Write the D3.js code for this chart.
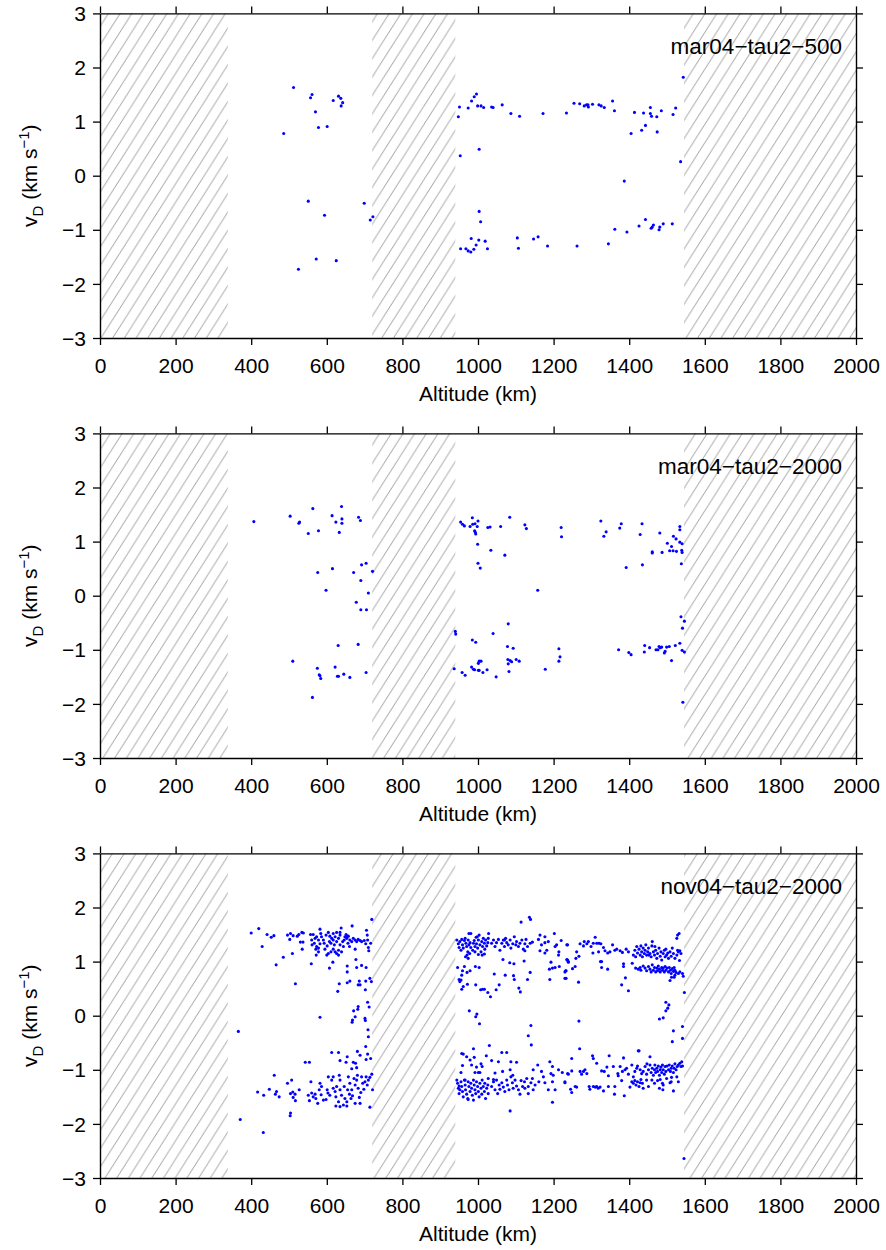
<!DOCTYPE html>
<html>
<head>
<meta charset="utf-8">
<script src="https://cdn.jsdelivr.net/npm/d3@7"></script>
<style>
  html, body { margin: 0; padding: 0; background: #fff; }
  svg { display: block; }
  text { font-family: "Liberation Sans", Arial, Helvetica, sans-serif; fill: #000; }
</style>
</head>
<body>
<script>
// Axis ticks and the masked (hatched) altitude ranges
const altitudeTicks = [0, 200, 400, 600, 800, 1000, 1200, 1400, 1600, 1800, 2000];
const velocityTicks = [-3, -2, -1, 0, 1, 2, 3];
const maskedRanges = [[0, 338], [720, 940], [1545, 2000]];
const runLabels = ["mar04\u2212tau2\u2212500", "mar04\u2212tau2\u22122000", "nov04\u2212tau2\u22122000"];

// Run mar04-tau2-500: altitude (km) and Doppler velocity (km/s)
const mar04_500_alt = [512,486,561,557,570,578,601,617,631,637,642,638,551,594,699,722,715,572,625,525,
  948,951,974,983,990,996,999,1008,1015,1036,1040,1064,1087,1110,1172,1234,1254,1269,1281,1287,1292,1291,
  1303,1320,1326,1334,1356,1361,1405,1414,1433,1438,1443,1456,1456,1459,1473,1474,1485,1516,1523,1543,1536,
  953,1003,1387,1003,1007,954,968,974,981,989,982,995,1002,1019,1025,1104,1107,1147,1159,1184,1262,1345,
  1362,1394,1426,1443,1458,1464,1461,1479,1481,1490,1514];
const mar04_500_vd = [1.63,0.78,1.50,1.44,1.18,0.89,0.91,1.39,1.47,1.43,1.35,1.29,-0.47,-0.73,-0.51,-0.76,-0.82,-1.54,-1.57,-1.73,
  1.09,1.27,1.25,1.38,1.46,1.51,1.29,1.29,1.26,1.27,1.26,1.31,1.15,1.10,1.15,1.16,1.34,1.33,1.29,1.31,1.27,1.31,
  1.32,1.31,1.29,1.26,1.38,1.20,0.78,1.17,0.84,1.16,0.93,1.26,1.15,1.10,1.09,0.81,1.20,1.13,1.25,1.82,0.26,
  0.37,0.49,-0.10,-0.66,-0.85,-1.35,-1.35,-1.39,-1.41,-1.36,-1.16,-1.28,-1.19,-1.21,-1.35,-1.15,-1.34,-1.17,-1.13,-1.30,-1.30,-1.26,
  -0.99,-1.04,-0.93,-0.81,-0.97,-0.91,-0.95,-1.00,-0.95,-0.89,-0.89];

// Run mar04-tau2-2000
const mar04_2000_alt = [407,503,526,528,563,551,578,614,624,639,640,640,633,684,689,
  576,598,615,671,692,704,721,690,710,678,690,705,
  630,683,510,575,580,582,584,622,628,631,645,661,704,562,
  954,959,964,979,985,986,992,1000,998,991,993,994,999,1000,1006,1026,1032,1034,1060,1071,1084,1124,1128,
  1220,1221,1158,1325,1339,1333,1379,1375,1392,1429,1434,1435,1461,1461,1481,1487,1501,1507,1512,1517,1516,
  1524,1525,1534,1534,1534,1540,1539,1540,1538,
  940,941,937,958,966,985,994,983,988,991,1001,1003,1008,1001,1003,1013,1024,1048,1040,1080,1078,1093,
  1079,1080,1085,1089,1101,1109,1082,1178,1214,1217,1214,1372,1399,1405,1441,1440,1454,1471,1476,1479,
  1482,1486,1493,1495,1499,1506,1512,1522,1534,1540,1546,1537,1546,1541,1542];
const mar04_2000_vd = [1.37,1.47,1.34,1.36,1.61,1.15,1.20,1.48,1.36,1.65,1.42,1.34,1.17,1.45,1.39,
  0.43,0.10,0.50,0.43,0.57,0.60,0.45,0.28,0.05,-0.12,-0.26,-0.26,
  -0.92,-0.90,-1.21,-1.34,-1.46,-1.48,-1.53,-1.32,-1.49,-1.49,-1.45,-1.51,-1.42,-1.88,
  1.36,1.32,1.29,1.28,1.44,1.32,1.33,1.38,1.28,1.20,1.17,1.14,0.95,0.60,0.51,1.26,1.27,0.84,1.28,0.75,1.45,1.31,1.24,
  1.26,1.09,0.10,1.38,1.18,1.10,1.33,1.25,0.52,1.13,1.33,0.57,0.81,0.79,1.16,0.80,0.97,0.83,0.91,1.10,0.83,
  1.05,0.82,1.28,1.22,0.99,0.96,0.84,0.80,0.59,
  -0.66,-0.71,-1.35,-1.42,-1.47,-0.82,-0.86,-1.32,-1.36,-1.37,-1.25,-1.21,-1.21,-1.38,-1.38,-1.42,-1.37,-1.50,-0.70,-0.52,-0.94,-0.97,
  -1.18,-1.26,-1.20,-1.22,-1.18,-1.21,-1.40,-1.36,-0.98,-1.13,-1.21,-1.00,-1.05,-1.09,-0.92,-1.04,-0.96,-1.00,-1.00,-0.94,
  -0.96,-0.95,-1.06,-1.03,-0.95,-0.94,-1.20,-0.92,-0.88,-1.01,-1.04,-0.39,-0.47,-0.60,-1.97];

// Run nov04-tau2-2000
const nov04_2000_alt = [
  // 400-720 km, upward branch
  400,420,442,453,460,429,466,485,509,496,504,502,511,522,526,534,538,530,537,535,559,517,
  557,564,569,560,573,578,567,561,573,571,578,582,584,586,591,593,582,578,572,598,604,608,613,617,622,607,
  611,601,595,600,604,611,617,622,626,631,620,626,631,635,638,635,642,646,648,651,654,656,660,661,666,667,
  670,675,679,683,688,692,675,657,653,644,639,631,705,707,708,699,703,710,711,719,716,617,626,635,
  // 400-720 km, crossing zero
  616,607,654,654,677,679,692,704,633,629,654,661,686,683,688,703,702,714,718,708,712,683,682,671,675,668,
  667,701,702,709,710,582,366,703,708,716,681,688,654,613,631,635,651,670,676,704,679,666,543,554,
  // 400-720 km, downward branch
  461,507,496,448,417,433,467,464,474,504,510,516,511,517,527,504,503,371,432,558,551,554,560,564,569,571,
  576,580,582,586,585,591,598,601,603,604,613,617,622,624,626,631,633,635,639,644,646,648,653,655,660,661,
  664,666,668,672,675,679,681,683,686,688,692,695,698,701,704,707,710,714,719,721,714,617,635,608,657,690,
  624,635,653,675,
  // 940-1240 km, upward branch
  1114,1136,1139,976,981,998,1003,1028,
  944,948,952,957,959,961,964,966,968,970,973,974,976,979,981,986,988,990,992,995,996,999,1001,1005,1008,
  1010,1012,1014,1017,1018,1020,1023,1026,1027,971,974,967,978,1011,1017,1036,1041,1045,1049,1054,1058,
  1063,1067,1070,1073,1076,1080,1085,1087,1092,1096,1100,1102,1107,1111,1116,1120,1124,1127,1131,1138,
  1144,1160,1164,1168,1177,1177,1182,1186,1202,1204,1208,1213,1214,1220,1235,1237,1177,1164,1124,1070,
  1001,992,955,950,
  // 940-1240 km, between the branches
  946,959,964,971,979,957,955,950,952,961,957,972,993,1003,994,1007,1012,1017,1026,1033,1048,1056,1043,
  1066,1084,1095,1072,1094,1096,1122,1138,1131,1108,1112,1193,1189,1197,1204,1190,1215,1230,1233,1236,
  1239,1230,977,997,994,1004,1140,1133,1141,1030,
  // 940-1240 km, downward branch
  957,961,959,955,970,990,988,979,983,996,1008,1005,1001,992,1011,1022,1036,1054,1063,1076,1087,1102,
  1085,1065,1045,1041,1027,1085,1197,
  944,946,948,950,952,955,957,959,961,964,966,967,970,973,974,976,979,981,983,985,988,990,992,994,996,
  999,1001,1003,1005,1008,1010,1011,1014,1017,1018,1020,1023,1026,1027,966,974,950,988,
  1036,1041,1045,1049,1052,1056,1058,1063,1067,1071,1076,1078,1082,1087,1091,1093,1098,1102,1107,1111,
  1114,1118,1123,1124,1129,1133,1140,1144,1146,1151,1158,1161,1168,1173,1177,1186,1193,1197,1199,1204,
  1213,1223,1230,1239,1190,1197,1146,1133,1092,
  // 1230-1545 km, upward branch
  1237,1235,1239,1232,1233,1250,1257,1261,1259,1267,1270,1281,1279,1288,1292,1299,1305,1310,1314,1320,
  1325,1304,1319,1332,1336,1343,1349,1356,1362,1367,1376,1382,1392,1398,1324,1327,1327,1343,1385,1385,
  1408,1390,1380,1398,1266,
  1411,1415,1417,1420,1422,1426,1429,1431,1433,1435,1437,1440,1442,1444,1446,1449,1451,1455,1458,1460,
  1461,1464,1467,1470,1473,1475,1479,1482,1484,1486,1490,1493,1495,1499,1502,1504,1508,1511,1514,1517,
  1521,1526,1528,1530,1534,1537,1532,1528,1526,1497,1452,1468,
  1417,1424,1429,1431,1437,1442,1446,1451,1455,1458,1461,1464,1467,1470,1473,1475,1477,1480,1482,1486,
  1488,1490,1493,1495,1497,1500,1504,1506,1509,1511,1514,1517,1519,1521,1524,1508,1521,1530,1534,1541,
  1543,1519,1512,1533,
  // 1230-1545 km, between the branches
  1267,1546,1497,1505,1502,1497,1490,1480,1541,1517,1541,1514,1269,1424,1248,
  // 1230-1545 km, downward branch
  1237,1248,1245,1248,1230,1257,1261,1270,1274,1279,1283,1288,1294,1296,1305,1310,1314,1318,1323,1303,
  1305,1314,1327,1334,1341,1347,1345,1358,1332,1345,1362,1361,1370,1371,1376,1385,1382,1387,1380,1389,
  1393,1398,1402,1407,1411,1415,1420,1422,1426,1407,1411,1415,1418,1422,1426,1429,1431,1435,1437,1429,
  1433,1437,1442,1446,1451,1455,1458,1461,1464,1467,1468,1470,1473,1475,1477,1480,1482,1484,1486,1488,
  1490,1493,1495,1497,1500,1504,1506,1509,1511,1514,1517,1519,1521,1524,1527,1530,1534,1539,1537,1541,
  1460,1467,1475,1482,1488,1490,1499,1508,1511,1512,1517,1530,1526,1446,1451,1480,1489,1447,1455,1545];
const nov04_2000_vd = [
  1.53,1.61,1.50,1.45,1.48,1.28,0.94,1.08,1.15,1.49,1.52,1.41,1.48,1.47,1.50,1.54,1.53,1.36,1.36,1.23,0.96,0.59,
  1.50,1.50,1.43,1.40,1.46,1.40,1.34,1.31,1.28,1.23,1.18,1.60,1.52,1.46,1.40,1.34,1.33,1.25,1.12,1.49,1.54,1.47,1.43,1.40,1.46,1.37,
  1.34,1.29,1.23,1.12,1.15,1.18,1.23,1.18,1.15,1.21,1.31,1.37,1.43,1.49,1.62,1.31,1.37,1.40,1.46,1.50,1.47,1.34,1.28,1.40,1.37,1.66,
  1.43,1.40,1.37,1.41,1.39,1.37,1.23,1.47,1.43,1.28,1.18,1.12,1.58,1.49,1.40,1.39,1.33,1.26,1.20,1.78,1.34,1.52,1.54,1.54,
  0.99,0.88,0.92,0.81,1.04,0.89,0.93,0.89,0.59,0.45,0.61,0.64,0.64,0.57,0.57,0.64,0.48,0.69,0.63,0.25,0.16,0.17,0.12,0.09,-0.02,-0.08,
  -0.12,-0.05,-0.09,-0.26,-0.39,-0.03,-0.29,-0.57,-0.71,-0.79,-0.66,-0.73,-0.76,-0.68,-0.68,-0.83,-0.86,-0.86,-0.88,-0.81,-0.96,-0.98,-0.86,-0.86,
  -1.10,-1.19,-1.25,-1.36,-1.41,-1.47,-1.40,-1.45,-1.50,-1.44,-1.41,-1.45,-1.51,-1.57,-1.37,-1.80,-1.85,-1.92,-2.16,-1.22,-1.47,-1.57,-1.43,-1.50,-1.45,-1.53,
  -1.62,-1.37,-1.25,-1.31,-1.46,-1.56,-1.55,-1.37,-1.43,-1.13,-1.19,-1.34,-1.40,-1.50,-1.31,-1.59,-1.10,-1.37,-1.47,-1.65,-1.31,-1.53,-1.59,-1.37,-1.45,-1.25,
  -1.53,-1.37,-1.48,-1.16,-1.28,-1.19,-1.10,-1.34,-1.51,-1.62,-1.13,-1.25,-1.36,-1.22,-1.13,-1.28,-1.19,-1.14,-1.08,-1.37,-1.69,-1.13,-1.19,-1.47,-1.13,-1.42,
  -1.67,-1.68,-1.67,-1.62,
  1.73,1.82,1.78,1.52,1.52,1.46,1.49,1.52,
  1.40,1.33,1.37,1.41,1.31,1.25,1.39,1.43,1.34,1.28,1.18,1.40,1.31,1.35,1.26,1.21,1.34,1.39,1.28,1.45,1.33,1.25,1.40,1.31,1.18,
  1.37,1.28,1.43,1.34,1.23,1.40,1.29,1.35,1.43,1.12,1.06,1.09,1.15,1.12,1.14,1.34,1.40,1.28,1.35,1.41,1.21,
  1.34,1.40,1.28,1.43,1.35,1.31,1.40,1.25,1.33,1.46,1.31,1.37,1.28,1.34,1.40,1.23,1.33,1.41,1.28,1.34,
  1.36,1.41,1.49,1.31,1.46,1.35,1.21,1.37,1.52,1.28,1.31,1.12,1.18,1.39,1.31,1.03,1.16,1.20,1.20,1.40,
  1.13,1.18,1.21,1.26,
  0.89,0.83,0.91,0.80,0.83,0.75,0.66,0.67,0.63,0.54,0.49,0.58,0.91,0.89,0.57,0.48,0.49,0.49,0.43,0.35,0.48,0.57,0.77,
  1.04,0.98,0.96,0.75,0.74,0.67,1.01,0.80,0.67,0.51,0.44,0.99,0.86,0.88,0.89,0.67,0.91,0.81,0.83,1.03,
  0.99,0.69,0.09,0.03,-0.02,-0.15,-0.18,-0.37,-0.54,-0.55,
  -0.70,-0.71,-0.92,-1.05,-0.76,-0.77,-0.61,-0.82,-0.91,-0.95,-0.89,-1.05,-1.05,-1.05,-0.94,-0.74,-0.83,-0.85,-0.68,-0.68,-0.85,-0.86,
  -1.00,-1.03,-1.06,-1.18,-1.16,-1.76,-1.60,
  -1.19,-1.25,-1.34,-1.44,-1.37,-1.22,-1.31,-1.40,-1.50,-1.19,-1.28,-1.37,-1.45,-1.53,-1.22,-1.31,-1.40,-1.25,-1.34,-1.47,-1.19,-1.28,-1.37,-1.44,-1.22,
  -1.31,-1.40,-1.50,-1.25,-1.34,-1.45,-1.19,-1.31,-1.40,-1.25,-1.53,-1.34,-1.28,-1.44,-1.19,-1.55,-1.30,-1.56,
  -1.31,-1.22,-1.37,-1.19,-1.44,-1.28,-1.36,-1.24,-1.32,-1.40,-1.19,-1.28,-1.37,-1.13,-1.24,-1.34,-1.19,-1.30,-1.37,-1.45,
  -1.20,-1.31,-1.22,-1.34,-1.16,-1.31,-1.24,-1.16,-1.00,-1.28,-0.91,-1.22,-1.03,-1.13,-1.24,-1.37,-1.07,-1.22,-1.10,-1.37,
  -1.00,-1.05,-1.22,-1.08,-0.85,-0.94,-1.37,-1.44,-1.10,
  1.31,1.04,1.00,0.83,0.69,0.87,0.91,1.18,1.06,1.10,1.33,1.37,1.29,1.33,1.37,1.28,1.34,1.45,1.34,1.34,
  1.33,1.16,1.18,1.26,1.20,1.16,1.18,1.31,1.21,1.23,1.20,1.17,1.23,1.18,1.00,1.00,0.89,0.86,0.96,0.91,
  0.97,0.70,0.57,0.46,0.62,
  1.12,1.21,1.09,1.28,1.16,1.23,1.12,1.29,1.18,1.09,1.25,1.15,1.21,1.31,1.12,1.18,1.25,1.15,1.09,1.29,
  1.37,1.18,1.12,1.21,1.06,1.15,1.25,1.10,1.18,1.03,1.15,1.21,1.09,1.12,1.16,1.06,1.18,1.10,1.25,1.15,
  1.06,1.12,1.21,1.18,1.20,1.15,1.52,1.49,1.43,1.23,1.12,1.28,
  0.88,0.86,0.89,0.84,0.92,0.88,0.83,0.91,0.86,0.81,0.94,0.84,0.89,0.81,0.88,0.83,0.92,0.86,0.81,0.89,
  0.84,0.88,0.81,0.91,0.84,0.88,0.81,0.89,0.84,0.78,0.87,0.82,0.89,0.84,0.80,0.65,0.75,0.78,0.81,0.78,
  0.73,0.71,0.71,1.02,
  -0.10,0.43,0.25,0.20,0.14,0.09,-0.04,-0.06,-0.20,-0.28,-0.42,-0.48,-0.61,-0.65,-0.79,
  -1.07,-1.02,-1.36,-1.42,-1.24,-1.31,-1.32,-1.03,-1.08,-1.03,-1.00,-1.07,-1.31,-1.36,-1.31,-1.32,-1.31,-1.34,-1.32,-0.74,
  -0.79,-0.88,-1.02,-1.03,-0.95,-0.74,-1.11,-0.94,-1.39,-1.31,-1.31,-1.45,-1.07,-1.11,-0.94,-0.78,-1.03,-1.48,-1.20,-1.00,
  -0.97,-1.08,-1.32,-0.91,-1.13,-1.03,-0.97,-0.93,-0.65,-1.22,-1.25,-1.20,-1.28,-1.22,-1.31,-1.24,-1.18,-1.25,-1.34,-1.00,
  -1.07,-1.03,-0.94,-1.08,-1.00,-0.91,-1.05,-0.97,-1.10,-1.00,-0.91,-1.05,-0.97,-1.03,-0.93,-1.10,-1.00,-0.95,-1.05,-0.91,
  -1.00,-1.08,-0.94,-1.03,-0.93,-1.00,-0.91,-1.03,-0.97,-0.93,-1.05,-0.97,-0.89,-1.00,-0.94,-0.91,-0.88,-0.85,-0.94,-0.93,
  -1.19,-1.25,-1.20,-1.18,-1.25,-1.28,-1.16,-1.24,-1.22,-1.14,-1.39,-1.22,-1.13,-1.19,-1.31,-1.34,-1.37,-0.89,-0.76,-2.64];

const runs = [
  { alt: mar04_500_alt, vd: mar04_500_vd, label: runLabels[0] },
  { alt: mar04_2000_alt, vd: mar04_2000_vd, label: runLabels[1] },
  { alt: nov04_2000_alt, vd: nov04_2000_vd, label: runLabels[2] }
];

const width = 886, height = 1250;
const plotLeft = 100, plotRight = 856, plotHeight = 324.6;
const firstTop = 13.4, panelStep = 420;
const fontSize = 21;

const svg = d3.select("body").append("svg")
  .attr("width", width).attr("height", height)
  .attr("viewBox", `0 0 ${width} ${height}`);

// Diagonal hatching for the masked altitude ranges
const hw = 11.7, hh = 18.4;
const defs = svg.append("defs");
defs.append("pattern")
  .attr("id", "hatch")
  .attr("patternUnits", "userSpaceOnUse")
  .attr("width", hw).attr("height", hh)
  .append("path")
  .attr("d", `M${-hw},${hh} L${hw},${-hh} M0,${hh} L${hw},0 M0,${2 * hh} L${2 * hw},0`)
  .attr("stroke", "#8e8e8e")
  .attr("stroke-width", 0.85)
  .attr("fill", "none");

const x = d3.scaleLinear().domain([0, 2000]).range([plotLeft, plotRight]);
const fmt = d3.format("");

runs.forEach((run, i) => {
  const top = firstTop + i * panelStep;
  const bottom = top + plotHeight;
  const y = d3.scaleLinear().domain([-3, 3]).range([bottom, top]);
  const g = svg.append("g");

  // masked altitude bands
  g.append("g").selectAll("rect")
    .data(maskedRanges)
    .join("rect")
    .attr("x", d => x(d[0]))
    .attr("width", d => x(d[1]) - x(d[0]))
    .attr("y", y(3))
    .attr("height", y(-3) - y(3))
    .attr("fill", "url(#hatch)");

  // velocity measurements
  const pts = d3.zip(run.alt, run.vd);
  g.append("g").selectAll("circle")
    .data(pts)
    .join("circle")
    .attr("cx", d => x(d[0]))
    .attr("cy", d => y(d[1]))
    .attr("r", 1.55)
    .attr("fill", "#0000ff");

  // frame axes
  const styleAxis = sel => {
    sel.select(".domain").attr("stroke", "#000").attr("stroke-width", 1.4);
    sel.selectAll(".tick line").attr("stroke", "#000").attr("stroke-width", 1.3);
    sel.selectAll("text").style("font-family", '"Liberation Sans", Arial, sans-serif')
      .style("font-size", fontSize + "px").attr("fill", "#000");
  };

  const bottomAxis = g.append("g")
    .attr("transform", `translate(0,${bottom})`)
    .call(d3.axisBottom(x).tickValues(altitudeTicks).tickSize(7).tickSizeOuter(0).tickFormat(fmt))
    .call(styleAxis);
  bottomAxis.selectAll("text").attr("y", 35).attr("dy", null);

  const leftAxis = g.append("g")
    .attr("transform", `translate(${plotLeft},0)`)
    .call(d3.axisLeft(y).tickValues(velocityTicks).tickSize(7).tickSizeOuter(0).tickPadding(7).tickFormat(d3.format("")))
    .call(styleAxis);
  leftAxis.selectAll("text").attr("dy", "0.34em");

  g.append("g")
    .attr("transform", `translate(0,${top})`)
    .call(d3.axisTop(x).tickValues(altitudeTicks).tickSize(7).tickSizeOuter(0).tickFormat(""))
    .call(styleAxis);

  g.append("g")
    .attr("transform", `translate(${plotRight},0)`)
    .call(d3.axisRight(y).tickValues(velocityTicks).tickSize(7).tickSizeOuter(0).tickFormat(""))
    .call(styleAxis);

  // axis titles
  g.append("text")
    .attr("x", (plotLeft + plotRight) / 2)
    .attr("y", bottom + 63)
    .attr("text-anchor", "middle")
    .style("font-size", fontSize + "px")
    .text("Altitude (km)");

  const yt = g.append("text")
    .attr("transform", `translate(37,${(top + bottom) / 2}) rotate(-90)`)
    .attr("text-anchor", "middle")
    .style("font-size", fontSize + "px");
  yt.append("tspan").text("v");
  yt.append("tspan").attr("dy", 6).style("font-size", "15px").text("D");
  yt.append("tspan").attr("dy", -6).text(" (km s");
  yt.append("tspan").attr("dy", -8).style("font-size", "15px").text("\u22121");
  yt.append("tspan").attr("dy", 8).text(")");

  // run label
  g.append("text")
    .attr("x", 842)
    .attr("y", top + 41)
    .attr("text-anchor", "end")
    .style("font-size", "22.5px")
    .text(run.label);
});
</script>
</body>
</html>
